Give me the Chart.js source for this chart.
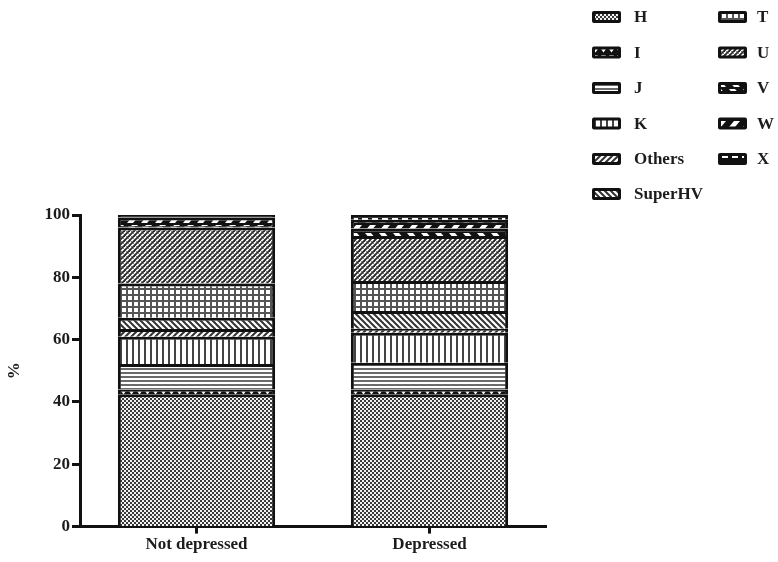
<!DOCTYPE html>
<html>
<head>
<meta charset="utf-8">
<script src="https://cdn.jsdelivr.net/npm/chart.js@4"></script>
<style>
  html, body { margin: 0; padding: 0; background: #fff; }
  canvas { display: block; }
</style>
</head>
<body>
<canvas id="c" width="778" height="562"></canvas>
<script>
// ---- data ----
const categories = ['Not depressed', 'Depressed'];
const seriesNames = ['H', 'I', 'J', 'K', 'Others', 'SuperHV', 'T', 'U', 'V', 'W', 'X'];
const H       = [42.5, 42.5];
const I       = [1.5, 1.5];
const J       = [8.2, 8.6];
const K       = [8.7, 9.6];
const Others  = [2.5, 1.3];
const SuperHV = [3.6, 5.7];
const T       = [11.0, 9.6];
const U       = [18.0, 14.5];
const V       = [0.5, 2.4];
const W       = [2.7, 2.8];
const X       = [0.8, 1.5];
const yTicks  = [0, 20, 40, 60, 80, 100];
const seriesValues = [H, I, J, K, Others, SuperHV, T, U, V, W, X];

// ---- patterns (style only) ----
const tmp = document.createElement('canvas').getContext('2d');
function tile(w, h, draw) {
  const c = document.createElement('canvas');
  c.width = w; c.height = h;
  const g = c.getContext('2d');
  draw(g, w, h);
  return tmp.createPattern(c, 'repeat');
}
function poly(g, pts, color) {
  g.fillStyle = color; g.beginPath();
  g.moveTo(pts[0][0], pts[0][1]);
  for (let i = 1; i < pts.length; i++) g.lineTo(pts[i][0], pts[i][1]);
  g.closePath(); g.fill();
}
function lines(g, segs, color, lw) {
  g.strokeStyle = color; g.lineWidth = lw;
  segs.forEach(s => { g.beginPath(); g.moveTo(s[0], s[1]); g.lineTo(s[2], s[3]); g.stroke(); });
}
const patterns = {
  H: tile(4, 4, g => { g.fillStyle = '#f2f2f2'; g.fillRect(0,0,4,4); g.fillStyle = '#3a3a3a'; g.fillRect(0,0,2,2); g.fillRect(2,2,2,2); }),
  I: tile(8, 6, g => { g.fillStyle = '#111'; g.fillRect(0,0,8,6); poly(g, [[1,1],[6,1],[3.5,4.5]], '#fff'); }),
  J: tile(1, 4, g => { g.fillStyle = '#fff'; g.fillRect(0,0,1,4); g.fillStyle = '#6a6a6a'; g.fillRect(0,0,1,2); }),
  K: tile(6, 1, g => { g.fillStyle = '#fff'; g.fillRect(0,0,6,1); g.fillStyle = '#444'; g.fillRect(0,0,2,1); }),
  Others: tile(6, 6, g => { g.fillStyle = '#fff'; g.fillRect(0,0,6,6); lines(g, [[0,6,6,0],[-1,1,1,-1],[5,7,7,5]], '#333', 2); }),
  SuperHV: tile(6, 6, g => { g.fillStyle = '#fff'; g.fillRect(0,0,6,6); lines(g, [[0,0,6,6],[-1,5,1,7],[5,-1,7,1]], '#333', 2); }),
  T: tile(6, 6, g => { g.fillStyle = '#fff'; g.fillRect(0,0,6,6); g.fillStyle = '#555'; g.fillRect(0,0,2,6); g.fillRect(0,0,6,2); }),
  U: tile(5, 5, g => { g.fillStyle = '#fff'; g.fillRect(0,0,5,5);
        lines(g, [[0,0,5,5],[-1,4,1,6],[4,-1,6,1]], '#888', 1);
        lines(g, [[0,5,5,0],[-1,1,1,-1],[4,6,6,4]], '#2a2a2a', 1.8); }),
  V: tile(14, 8, g => { g.fillStyle = '#111'; g.fillRect(0,0,14,8); poly(g, [[1,1],[7,1],[12,7],[6,7]], '#fff'); }),
  W: tile(14, 8, g => { g.fillStyle = '#111'; g.fillRect(0,0,14,8); poly(g, [[6,1],[12,1],[7,7],[1,7]], '#fff'); }),
  X: tile(10, 8, g => { g.fillStyle = '#111'; g.fillRect(0,0,10,8); g.fillStyle = '#fff'; g.fillRect(2,2,6,4); })
};

const FONT = 'Liberation Serif';
const TXT = '#1c1c1c';

const datasets = seriesNames.map((name, i) => ({
  label: name,
  data: seriesValues[i],
  backgroundColor: patterns[name],
  borderColor: '#111',
  borderWidth: 3,
  categoryPercentage: 1.0,
  barPercentage: 0.675
}));

// custom two-column legend
const legendPlugin = {
  id: 'patternLegend',
  afterDraw(chart) {
    const ctx = chart.ctx;
    ctx.save();
    const cols = [{ sx: 592, tx: 634 }, { sx: 718, tx: 757 }];
    const rowY = [17, 52.5, 88, 123.5, 159, 194];
    chart.data.datasets.forEach((ds, i) => {
      const col = i < 6 ? 0 : 1;
      const row = i < 6 ? i : i - 6;
      const y = rowY[row];
      const c = cols[col];
      ctx.fillStyle = '#111';
      ctx.beginPath();
      if (ctx.roundRect) ctx.roundRect(c.sx, y - 6, 29, 12, 2); else ctx.rect(c.sx, y - 6, 29, 12);
      ctx.fill();
      ctx.fillStyle = ds.backgroundColor;
      ctx.fillRect(c.sx + 3, y - 3, 23, 6);
      ctx.fillStyle = TXT;
      ctx.font = 'bold 17px "' + FONT + '"';
      ctx.textBaseline = 'middle';
      ctx.textAlign = 'left';
      ctx.fillText(ds.label, c.tx, y + 1);
    });
    ctx.restore();
  }
};

new Chart(document.getElementById('c'), {
  type: 'bar',
  data: { labels: categories, datasets },
  options: {
    responsive: false,
    animation: false,
    events: [],
    layout: { padding: { top: 215, right: 232, bottom: 6, left: 0 } },
    plugins: { legend: { display: false }, tooltip: { enabled: false }, title: { display: false } },
    scales: {
      x: {
        stacked: true,
        offset: true,
        grid: { display: true, drawOnChartArea: false, offset: false, tickLength: 7, tickWidth: 3, tickColor: '#111' },
        border: { display: true, width: 3, color: '#111' },
        ticks: { color: TXT, font: { family: FONT, size: 17, weight: 'bold' }, padding: 1, maxRotation: 0 }
      },
      y: {
        stacked: true,
        min: 0, max: 100,
        afterBuildTicks: s => { s.ticks = yTicks.map(v => ({ value: v })); },
        afterFit: s => { s.width = 80; },
        grid: { display: true, drawOnChartArea: false, tickLength: 8, tickWidth: 3, tickColor: '#111' },
        border: { display: true, width: 3, color: '#111' },
        ticks: { color: TXT, font: { family: FONT, size: 17, weight: 'bold' }, padding: 2 },
        title: { display: true, text: '%', color: TXT, font: { family: FONT, size: 17, weight: 'bold' }, padding: { top: 4, bottom: 4 } }
      }
    }
  },
  plugins: [legendPlugin]
});
</script>
</body>
</html>
